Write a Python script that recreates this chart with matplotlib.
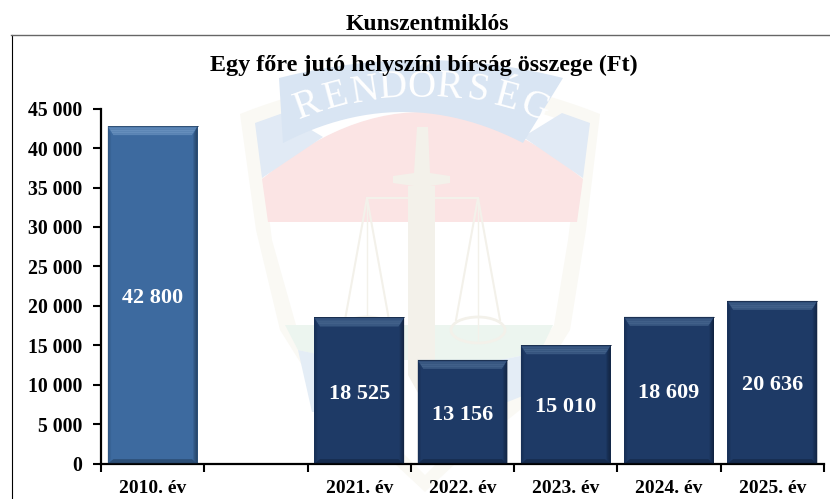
import numpy as np
import matplotlib
matplotlib.use('Agg')
import matplotlib.pyplot as plt
from matplotlib.patches import Polygon, Ellipse

plt.rcParams['font.family'] = ['Liberation Serif', 'DejaVu Serif']
plt.rcParams['font.weight'] = 'bold'

# chart values, the gap after 2010 is an empty category
years = ['2010. év', '', '2021. év', '2022. év', '2023. év', '2024. év', '2025. év']
fines = [42800, np.nan, 18525, 13156, 15010, 18609, 20636]
value_labels = ['42 800', '', '18 525', '13 156', '15 010', '18 609', '20 636']
y_ticks = [0, 5000, 10000, 15000, 20000, 25000, 30000, 35000, 40000, 45000]
y_tick_labels = ['0', '5 000', '10 000', '15 000', '20 000', '25 000', '30 000',
                 '35 000', '40 000', '45 000']

W, H = 830, 499
fig = plt.figure(figsize=(W / 100, H / 100), dpi=100, facecolor='white')

# --- watermark emblem, drawn on a full-figure axes in pixel coordinates ---
bg = fig.add_axes([0, 0, 1, 1], zorder=0)
bg.set_xlim(0, W)
bg.set_ylim(H, 0)
bg.axis('off')


def poly(points, color, z=1, **kw):
    bg.add_patch(Polygon(points, closed=True, facecolor=color, edgecolor='none', zorder=z, **kw))


def arch(x0, x1, y_edge, y_mid, n=30):
    xs = np.linspace(x0, x1, n)
    t = (xs - (x0 + x1) / 2) / ((x1 - x0) / 2)
    return list(zip(xs, y_mid + (y_edge - y_mid) * t ** 2))


CREAM = '#faf9f4'
SWORD = '#f3f1ea'
# shield outline
poly(arch(240, 600, 114, 78) + [(586, 230), (570, 330), (520, 410), (470, 450), (425, 492),
                                (380, 450), (330, 410), (280, 330), (256, 230)], CREAM, 1)
poly(arch(258, 582, 128, 95) + [(568, 240), (554, 325), (505, 400), (460, 440), (425, 475),
                                (390, 440), (345, 400), (296, 325), (272, 240)], '#ffffff', 2)
# red and white fields
poly([(262, 179)] + arch(262, 583, 179, 112) + [(583, 179), (577, 222), (268, 222)], '#fbe4e4', 3)
# side pieces of the ribbon and the ribbon itself
poly([(255, 123), (283, 113), (323, 137), (262, 178)], '#e1eaf5', 4)
poly([(590, 123), (562, 113), (523, 137), (583, 178)], '#e1eaf5', 4)
poly(arch(279, 563, 78, 60) + list(reversed(arch(283, 523, 143, 112))), '#d9e5f3', 5)
# green band and lower blue field
poly([(285, 325), (553, 325), (540, 352), (500, 360), (345, 360), (298, 350)], '#ecf5ef', 3)
poly([(298, 350), (345, 360), (345, 412), (312, 412)], '#e4edf6', 3)
poly([(540, 352), (500, 360), (500, 405), (525, 395)], '#e4edf6', 3)

# sword
poly([(408, 186), (435, 186), (435, 375), (422, 400), (408, 375)], SWORD, 6)
poly([(417, 127), (428, 127), (430, 173), (414, 173)], SWORD, 6)
poly([(393, 176), (414, 173), (430, 173), (450, 176), (450, 183), (430, 186), (414, 186), (393, 183)], SWORD, 6)
# scales
bg.plot([367, 478], [198, 198], color=SWORD, lw=1.5, zorder=6)
for cx in (367, 478):
    bg.plot([cx - 22, cx, cx + 22], [320, 198, 320], color=SWORD, lw=1.5, zorder=6)
    bg.plot([cx, cx], [198, 340], color=SWORD, lw=1, zorder=6)
    bg.add_patch(Ellipse((cx, 330), 54, 26, facecolor='none', edgecolor=SWORD, lw=2, zorder=6))

# ribbon lettering, white on the arch
letters = 'RENDŐRSÉG'
letter_x = [308, 336, 365, 393, 421, 450, 478, 507, 535]
letter_y = [106, 97, 91, 88, 87, 88, 91, 98, 108]
letter_rot = [20, 15, 9, 4, 0, -5, -10, -15, -20]
for ch, lx, ly, rot in zip(letters, letter_x, letter_y, letter_rot):
    bg.text(lx, ly, ch, fontsize=28, color='white', weight='normal',
            rotation=rot, ha='center', va='center', zorder=7)

# frame around the chart
bg.plot([11.5, 11.5], [499, 34.5], color='black', lw=0.8, zorder=8)
bg.plot([11, 830], [34.5, 34.5], color='#666666', lw=1.0, zorder=8)

# --- the chart ---
left, right, top, bottom = 101, 824, 108.7, 463.5
ax = fig.add_axes([left / W, 1 - bottom / H, (right - left) / W, (bottom - top) / H], zorder=1)
ax.patch.set_alpha(0)
x = np.arange(len(years))
bar_w = 0.87
colors = ['#3d6a9f'] + ['#1e3a66'] * 6
bars = ax.bar(x, fines, width=bar_w, color=colors, zorder=2)

ax.set_xlim(-0.5, len(years) - 0.5)
ax.set_ylim(0, 45000)

# bevel on every bar: light top, dark sides, taken from the bar itself
bevel_x = 0.055
bevel_y = 1150
for bar, col in zip(bars, colors):
    h = bar.get_height()
    if np.isnan(h):
        continue
    x0, x1 = bar.get_x(), bar.get_x() + bar.get_width()
    light = '#6a93c0' if col == '#3d6a9f' else '#45658e'
    dark = '#1d3550' if col == '#3d6a9f' else '#0f1f38'
    for k in range(5):
        f = k / 5
        g = (k + 1) / 5
        # top strip fades from the edge towards the bar colour
        ax.add_patch(Polygon([(x0 + bevel_x * f, h - bevel_y * f), (x1 - bevel_x * f, h - bevel_y * f),
                              (x1 - bevel_x * g, h - bevel_y * g), (x0 + bevel_x * g, h - bevel_y * g)],
                             facecolor=light, edgecolor='none', alpha=0.5 + 0.5 * (1 - abs(f - 0.5) * 2),
                             zorder=3))
        # right side fades inwards
        ax.add_patch(Polygon([(x1 - bevel_x * f * 0.8, h - bevel_y * f), (x1 - bevel_x * f * 0.8, 500 * f),
                              (x1 - bevel_x * g * 0.8, 500 * g), (x1 - bevel_x * g * 0.8, h - bevel_y * g)],
                             facecolor=dark, edgecolor='none', alpha=0.85 * (1 - f), zorder=3))
        # left side, weaker
        ax.add_patch(Polygon([(x0 + bevel_x * f * 0.6, h - bevel_y * f), (x0 + bevel_x * f * 0.6, 500 * f),
                              (x0 + bevel_x * g * 0.6, 500 * g), (x0 + bevel_x * g * 0.6, h - bevel_y * g)],
                             facecolor=dark, edgecolor='none', alpha=0.4 * (1 - f), zorder=3))
    ax.add_patch(Polygon([(x0, 0), (x1, 0), (x1 - bevel_x, 550), (x0 + bevel_x, 550)],
                         facecolor=dark, edgecolor='none', alpha=0.5, zorder=3))
    ax.plot([x0, x1], [h, h], color=dark, lw=0.6, alpha=0.7, zorder=3)

for xi, val, lab in zip(x, fines, value_labels):
    if lab:
        ax.annotate(lab, (xi, val / 2), xytext=(0, -2.2), textcoords='offset points',
                    color='white', fontsize=16, ha='center', va='center', zorder=4)

ax.set_yticks(y_ticks)
ax.set_yticklabels(y_tick_labels, fontsize=14.2)
ax.set_xticks(x)
ax.set_xticklabels(years, fontsize=14)
ax.set_xticks(np.arange(-0.5, len(years)), minor=True)
ax.tick_params(axis='x', which='major', length=0, pad=12)
ax.tick_params(axis='x', which='minor', length=6, width=1.5, direction='out')
ax.tick_params(axis='y', length=6, width=1.5, direction='out', pad=7.5)
for s in ('top', 'right'):
    ax.spines[s].set_visible(False)
for s in ('left', 'bottom'):
    ax.spines[s].set_linewidth(1.6)

fig.text(427.5 / W, 1 - 25 / H, 'Kunszentmiklós', fontsize=17, ha='center', va='center', zorder=5)
fig.text(423.5 / W, 1 - 65 / H, 'Egy főre jutó helyszíni bírság összege (Ft)', fontsize=17.4,
         ha='center', va='center', zorder=5)

fig.savefig('out.png', dpi=100)
